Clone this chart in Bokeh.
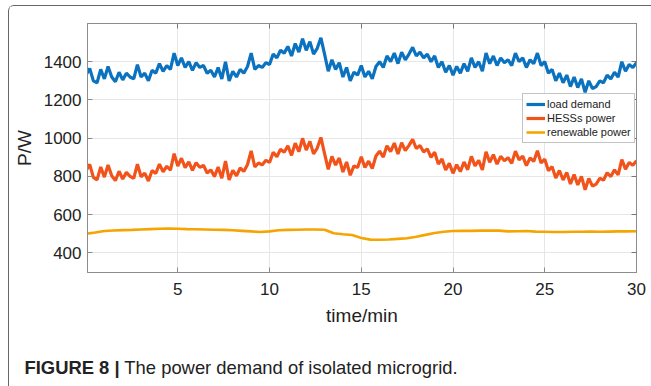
import numpy as np
from bokeh.plotting import figure
from bokeh.layouts import column
from bokeh.models import FixedTicker, LinearAxis, Range1d, Div
from bokeh.embed import file_html
from bokeh.resources import INLINE

# ---- data ----
load_demand = [1330, 1365, 1300, 1290, 1360, 1310, 1375, 1320, 1295, 1345,
               1305, 1340, 1320, 1310, 1385, 1320, 1340, 1300, 1355, 1340,
               1390, 1350, 1380, 1360, 1445, 1380, 1420, 1370, 1400, 1355,
               1395, 1370, 1380, 1340, 1355, 1320, 1370, 1310, 1400, 1300,
               1350, 1320, 1360, 1340, 1375, 1445, 1360, 1380, 1370, 1395,
               1385, 1440, 1420, 1460, 1445, 1480, 1430, 1495, 1450, 1520,
               1460, 1505, 1440, 1470, 1525, 1440, 1350, 1410, 1360, 1395,
               1320, 1370, 1300, 1345, 1330, 1380, 1320, 1350, 1310, 1375,
               1400, 1370, 1430, 1400, 1445, 1390, 1450, 1410, 1440, 1475,
               1430, 1450, 1420, 1440, 1400, 1430, 1370, 1400, 1345, 1380,
               1330, 1375, 1340, 1390, 1350, 1420, 1370, 1400, 1350, 1445,
               1390, 1430, 1380, 1420, 1395, 1410, 1380, 1445, 1400, 1420,
               1370, 1410, 1390, 1445, 1380, 1400, 1340, 1360, 1300, 1340,
               1290, 1330, 1270, 1320, 1265, 1310, 1240, 1300, 1260, 1270,
               1300, 1290, 1330, 1310, 1345, 1320, 1400, 1350, 1385, 1370,
               1395]

hess_power = [830, 863, 795, 782, 849, 796, 860, 803, 778, 827,
              786, 821, 800, 790, 864, 798, 817, 776, 831, 815,
              864, 824, 853, 833, 919, 854, 895, 846, 876, 832,
              872, 847, 858, 818, 834, 799, 849, 790, 880, 781,
              832, 803, 844, 826, 862, 933, 849, 870, 860, 884,
              873, 926, 903, 942, 926, 960, 910, 974, 929, 999,
              938, 983, 918, 948, 1004, 919, 837, 905, 859, 896,
              823, 875, 806, 855, 846, 902, 846, 880, 841, 907,
              932, 901, 960, 930, 974, 917, 976, 935, 962, 994,
              946, 962, 928, 944, 900, 926, 864, 891, 834, 868,
              816, 861, 825, 875, 835, 905, 855, 884, 834, 929,
              874, 914, 864, 905, 882, 898, 868, 932, 887, 906,
              856, 897, 878, 934, 870, 890, 830, 851, 791, 831,
              781, 821, 760, 810, 755, 800, 730, 789, 749, 760,
              790, 780, 819, 799, 834, 808, 888, 838, 873, 858,
              882]

renewable_power = [500, 506, 514, 517, 519, 520, 522, 524, 526, 527,
                   526, 524, 523, 522, 521, 520, 518, 515, 512, 509,
                   512, 518, 520, 521, 522, 522, 521, 502, 497, 493,
                   478, 469, 468, 470, 473, 476, 484, 494, 504, 510,
                   514, 515, 515, 516, 516, 516, 512, 513, 514, 511,
                   510, 509, 509, 510, 510, 511, 510, 511, 512, 512,
                   513]

x_ticks = [5, 10, 15, 20, 25, 30]
y_ticks = [400, 600, 800, 1000, 1200, 1400]
series_names = ["load demand", "HESSs power", "renewable power"]
caption_bold = "FIGURE 8 |"
caption_text = "The power demand of isolated microgrid."

t_fast = np.linspace(0.0, 30.0, len(load_demand))
t_slow = np.linspace(0.0, 30.0, len(renewable_power))

FONT = "Liberation Sans"
AX = "#8c8c8c"

p = figure(width=641, height=326, output_backend="svg", toolbar_location=None,
           x_range=Range1d(0.08, 30), y_range=Range1d(297, 1600),
           min_border_left=78, min_border_right=14, min_border_top=17,
           min_border_bottom=60, x_axis_label="time/min", y_axis_label="P/W")
p.outline_line_color = AX
p.background_fill_color = "white"
p.border_fill_color = "white"

p.line(t_fast, load_demand, color="#0b72c0", line_width=3.2, legend_label=series_names[0])
p.line(t_fast, hess_power, color="#f2531b", line_width=3.2, legend_label=series_names[1])
p.line(t_slow, renewable_power, color="#f5a400", line_width=2.6, legend_label=series_names[2])

for ax, ticks in ((p.xaxis[0], x_ticks), (p.yaxis[0], y_ticks)):
    ax.ticker = FixedTicker(ticks=ticks)
    ax.major_tick_in = 5
    ax.major_tick_out = 0
    ax.minor_tick_line_color = None
    ax.axis_line_color = AX
    ax.major_tick_line_color = AX
    ax.major_label_text_font = FONT
    ax.major_label_text_font_size = "17px"
    ax.major_label_text_color = "#222222"
    ax.axis_label_text_font = FONT
    ax.axis_label_text_font_size = "19px"
    ax.axis_label_text_font_style = "normal"
    ax.axis_label_text_color = "#222222"
p.xaxis.major_label_standoff = 10
p.yaxis.major_label_standoff = 6
p.xaxis.axis_label_standoff = 7
p.yaxis.axis_label_standoff = 6

# ticks on top and right (box)
top = LinearAxis(ticker=FixedTicker(ticks=x_ticks), major_tick_in=5, major_tick_out=0,
                 minor_tick_line_color=None, axis_line_color=AX, major_tick_line_color="#777777",
                 major_label_text_font_size="0px")
right = LinearAxis(ticker=FixedTicker(ticks=y_ticks), major_tick_in=5, major_tick_out=0,
                   minor_tick_line_color=None, axis_line_color=AX, major_tick_line_color="#777777",
                   major_label_text_font_size="0px")
p.add_layout(top, "above")
p.add_layout(right, "right")

p.xgrid.ticker = FixedTicker(ticks=x_ticks)
p.ygrid.ticker = FixedTicker(ticks=y_ticks)
p.grid.grid_line_color = "#e6e6e6"
p.grid.grid_line_width = 1

lg = p.legend[0]
lg.location = (435, 129)
lg.label_text_font = FONT
lg.label_text_font_size = "11px"
lg.label_text_color = "#222222"
lg.glyph_width = 19
lg.glyph_height = 14
lg.label_height = 14
lg.label_standoff = 2
lg.spacing = 0
lg.padding = 3
lg.margin = 0
lg.border_line_color = "#888888"
lg.background_fill_alpha = 1.0

cap = Div(text=("<div style='padding:21px 0 0 10.5px; font-family:\"Liberation Sans\"; "
                "font-size:18.4px; line-height:20px; color:#222222; white-space:nowrap;'>"
                f"<b>{caption_bold}</b> {caption_text}</div>"),
          width=641, height=53)

layout = column(p, cap, spacing=0,
                styles={"margin-left": "8px", "margin-top": "5px",
                        "border-top": "1.5px solid #666666",
                        "border-left": "1.5px solid #666666",
                        "border-top-left-radius": "6px",
                        "background-color": "white"})

open("out.html", "w").write(file_html(layout, INLINE))
